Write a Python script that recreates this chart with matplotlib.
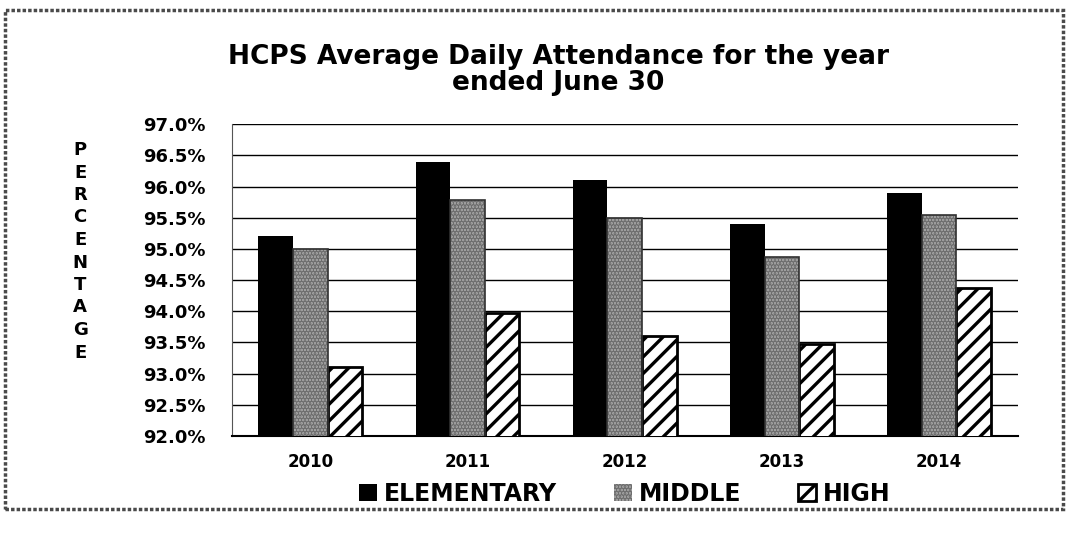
import numpy as np
import matplotlib
matplotlib.use("Agg")
import matplotlib.pyplot as plt
from matplotlib.patches import Rectangle

years = ["2010", "2011", "2012", "2013", "2014"]
elementary = [95.2, 96.4, 96.1, 95.4, 95.9]
middle = [95.0, 95.78, 95.5, 94.87, 95.55]
high = [93.1, 93.97, 93.6, 93.47, 94.38]

plt.rcParams['font.family'] = ['DejaVu Sans']
plt.rcParams['font.weight'] = 'bold'
plt.rcParams['hatch.linewidth'] = 2.4

fig = plt.figure(figsize=(10.68, 5.35), dpi=100)
ax = fig.add_axes([0.217, 0.185, 0.736, 0.583])

x = np.arange(len(years))
w = 0.22

ax.bar(x - w, elementary, w, color='black', label='ELEMENTARY', zorder=3)
ax.bar(x, middle, w, color='#a6a6a6', edgecolor='#6e6e6e', hatch='.....',
       linewidth=0, label='MIDDLE', zorder=3)
ax.bar(x, middle, w, fill=False, edgecolor='#303030', linewidth=1.2, zorder=4)
ax.bar(x + w, high, w, color='white', edgecolor='black', hatch='//',
       linewidth=2, label='HIGH', zorder=3)

ax.set_ylim(92, 97)
ax.set_xlim(-0.5, 4.5)
yt = np.arange(92, 97.01, 0.5)
ax.set_yticks(yt)
ax.set_yticklabels([f"{v:.1f}%" for v in yt], fontsize=13, fontweight='bold')
ax.set_xticks(x)
ax.set_xticklabels(years, fontsize=12, fontweight='bold')
ax.tick_params(axis='y', length=0, pad=18.5)
ax.tick_params(axis='x', length=0, pad=12)
ax.yaxis.grid(True, color='black', linewidth=1)
ax.set_axisbelow(True)
for s in ['top', 'right']:
    ax.spines[s].set_visible(False)
ax.spines['left'].set_color('#555555')
ax.spines['bottom'].set_linewidth(1.5)

# vertical stacked axis title
for i, ch in enumerate("PERCENTAGE"):
    fig.text(0.075, 1 - (150 + i * 22.5) / 535, ch, fontsize=13,
             fontweight='bold', ha='center', va='center')

fig.text(0.523, 1 - 70 / 535, "HCPS Average Daily Attendance for the year\nended June 30",
         fontsize=19, fontweight='bold', ha='center', va='center', linespacing=0.95)

ax.legend(loc='center', bbox_to_anchor=(0.5, -0.186), ncol=3, frameon=False,
          handlelength=0.75, handleheight=0.75, handletextpad=0.3,
          columnspacing=2.4, prop={'weight': 'bold', 'size': 17})

fig.add_artist(Rectangle((5 / 1068, 1 - 509 / 535), 1058 / 1068, 499 / 535,
                         transform=fig.transFigure, fill=False,
                         edgecolor='#4a4a4a', linewidth=2.5, linestyle=(0, (1, 0.6))))

fig.savefig("out.png", dpi=100)
